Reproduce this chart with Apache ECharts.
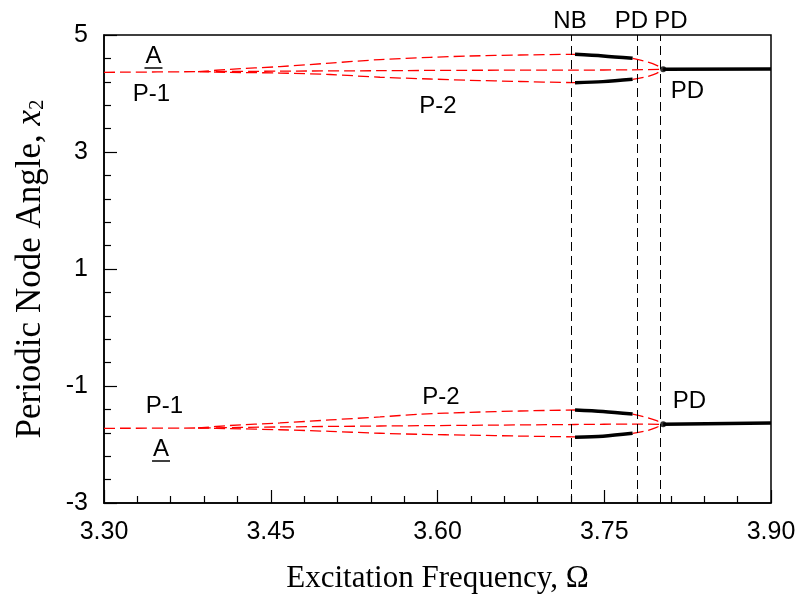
<!DOCTYPE html>
<html><head><meta charset="utf-8">
<script src="https://cdn.jsdelivr.net/npm/echarts@6/dist/echarts.min.js"></script>
<style>html,body{margin:0;padding:0;background:#fff}#c{width:801px;height:605px}</style>
</head><body><div id="c"></div><script>
// ---------- Upper set (x2 ~ 4.4) ----------
const upP1Omega   = [3.30, 3.3846, 3.4583, 3.5483, 3.6292, 3.7237, 3.7755, 3.803];
const upP1Value   = [4.362, 4.373, 4.382, 4.390, 4.397, 4.400, 4.405, 4.414];
const upP2aOmega  = [3.3846, 3.4133, 3.4583, 3.5033, 3.5483, 3.5933, 3.6292, 3.6742, 3.7237];
const upP2aValue  = [4.373, 4.414, 4.460, 4.520, 4.580, 4.618, 4.641, 4.658, 4.670];
const upP2bOmega  = [3.3846, 3.4133, 3.4583, 3.5033, 3.5483, 3.5933, 3.6292, 3.6742, 3.7237];
const upP2bValue  = [4.373, 4.362, 4.350, 4.325, 4.278, 4.248, 4.226, 4.205, 4.185];
const upStabAOmega = [3.7237, 3.7489, 3.7755];
const upStabAValue = [4.670, 4.643, 4.602];
const upStabBOmega = [3.7237, 3.7489, 3.7755];
const upStabBValue = [4.185, 4.203, 4.243];
const upPDaOmega  = [3.7755, 3.7881, 3.7971, 3.803];
const upPDaValue  = [4.602, 4.544, 4.482, 4.414];
const upPDbOmega  = [3.7755, 3.7881, 3.7971, 3.803];
const upPDbValue  = [4.243, 4.287, 4.345, 4.414];
const upP1StabOmega = [3.803, 3.90];
const upP1StabValue = [4.414, 4.420];

// ---------- Lower set (x2 ~ -1.7) ----------
const loP1Omega   = [3.30, 3.3846, 3.4583, 3.5483, 3.6292, 3.7237, 3.7755, 3.803];
const loP1Value   = [-1.723, -1.718, -1.700, -1.684, -1.672, -1.658, -1.652, -1.655];
const loP2aOmega  = [3.3846, 3.4133, 3.4583, 3.5033, 3.5483, 3.5843, 3.6292, 3.6742, 3.7237];
const loP2aValue  = [-1.718, -1.675, -1.632, -1.580, -1.528, -1.482, -1.450, -1.427, -1.410];
const loP2bOmega  = [3.3846, 3.4133, 3.4583, 3.5033, 3.5483, 3.5843, 3.6292, 3.6742, 3.7237];
const loP2bValue  = [-1.718, -1.728, -1.748, -1.775, -1.808, -1.826, -1.840, -1.856, -1.870];
const loStabAOmega = [3.7237, 3.7489, 3.7755];
const loStabAValue = [-1.410, -1.436, -1.479];
const loStabBOmega = [3.7237, 3.7489, 3.7755];
const loStabBValue = [-1.875, -1.858, -1.809];
const loPDaOmega  = [3.7755, 3.7881, 3.7971, 3.803];
const loPDaValue  = [-1.479, -1.536, -1.593, -1.655];
const loPDbOmega  = [3.7755, 3.7881, 3.7971, 3.803];
const loPDbValue  = [-1.809, -1.764, -1.706, -1.655];
const loP1StabOmega = [3.803, 3.90];
const loP1StabValue = [-1.655, -1.632];

// Bifurcation frequencies (NB, PD, PD)
const bifurcationOmega = [3.7237, 3.7755, 3.803];
const pdPointOmega = [3.803, 3.803];
const pdPointValue = [4.414, -1.655];

// Axis ticks
const xMin = 3.30, xMax = 3.90, xStep = 0.15;
const yMin = -3, yMax = 5, yStep = 2;

// Annotations: [omega, x2, text, underline]
const annotations = [
  [3.3445, 4.641, 'A', true],
  [3.3427, 3.991, 'P-1', false],
  [3.6004, 3.786, 'P-2', false],
  [3.8249, 4.034, 'PD', false],
  [3.7192, 5.239, 'NB', false],
  [3.7745, 5.239, 'PD', false],
  [3.8100, 5.239, 'PD', false],
  [3.3544, -1.350, 'P-1', false],
  [3.3513, -2.077, 'A', true],
  [3.6031, -1.188, 'P-2', false],
  [3.8266, -1.256, 'PD', false]
];

const pts = (xs, ys) => xs.map((x, i) => [x, ys[i]]);
const redDash = {color: '#ff0000', width: 1.3, type: [11, 5]};
const blackSolid = {color: '#000000', width: 3.5};
function mk(xs, ys, style, z) {
  return {type: 'line', data: pts(xs, ys), showSymbol: false, symbol: 'none',
          smooth: 0.3,
          lineStyle: style, z: z, silent: true, animation: false};
}

const chart = echarts.init(document.getElementById('c'), null, {renderer: 'canvas'});
const sans = 'Liberation Sans, Arial, sans-serif';
const serif = 'Liberation Serif, Times New Roman, serif';

const series = [
  mk(upP1Omega, upP1Value, redDash, 2),
  mk(upP2aOmega, upP2aValue, redDash, 2),
  mk(upP2bOmega, upP2bValue, redDash, 2),
  mk(upPDaOmega, upPDaValue, redDash, 2),
  mk(upPDbOmega, upPDbValue, redDash, 2),
  mk(upStabAOmega, upStabAValue, blackSolid, 4),
  mk(upStabBOmega, upStabBValue, blackSolid, 4),
  mk(upP1StabOmega, upP1StabValue, blackSolid, 4),
  mk(loP1Omega, loP1Value, redDash, 2),
  mk(loP2aOmega, loP2aValue, redDash, 2),
  mk(loP2bOmega, loP2bValue, redDash, 2),
  mk(loPDaOmega, loPDaValue, redDash, 2),
  mk(loPDbOmega, loPDbValue, redDash, 2),
  mk(loStabAOmega, loStabAValue, blackSolid, 4),
  mk(loStabBOmega, loStabBValue, blackSolid, 4),
  mk(loP1StabOmega, loP1StabValue, blackSolid, 4),
  {type: 'scatter', data: pts(pdPointOmega, pdPointValue), symbol: 'circle', symbolSize: 6,
   itemStyle: {color: '#000'}, z: 5, silent: true, animation: false}
];
series[0].markLine = {
  silent: true, symbol: ['none', 'none'], label: {show: false}, animation: false,
  lineStyle: {color: '#000', width: 1, type: [9, 5]},
  data: bifurcationOmega.map(v => ({xAxis: v}))
};

chart.setOption({
  animation: false,
  backgroundColor: '#ffffff',
  grid: {left: 104, right: 30, top: 35, bottom: 102, show: true, borderColor: '#000', borderWidth: 1.5, backgroundColor: 'transparent'},
  xAxis: {
    type: 'value', min: xMin, max: xMax, interval: xStep,
    name: 'Excitation Frequency, Ω', nameLocation: 'middle', nameGap: 60,
    nameTextStyle: {fontFamily: serif, fontSize: 31, color: '#000'},
    axisLine: {show: true, onZero: false, lineStyle: {color: '#000', width: 1.5}},
    axisTick: {show: true, inside: true, length: 13, lineStyle: {color: '#000', width: 1.2}},
    minorTick: {show: true, splitNumber: 5, length: 7, lineStyle: {color: '#000', width: 1.2}},
    splitLine: {show: false}, minorSplitLine: {show: false},
    axisLabel: {formatter: v => v.toFixed(2), fontFamily: sans, fontSize: 25, color: '#000', margin: 17}
  },
  yAxis: {
    type: 'value', min: yMin, max: yMax, interval: yStep,
    name: '{a|Periodic Node Angle, }{b|x}{c|2}', nameLocation: 'middle', nameGap: 56, nameRotate: 90,
    nameTextStyle: {fontFamily: serif, fontSize: 35, color: '#000',
      rich: {
        a: {fontFamily: serif, fontSize: 35, color: '#000'},
        b: {fontFamily: serif, fontSize: 35, fontStyle: 'italic', color: '#000'},
        c: {fontFamily: serif, fontSize: 21, color: '#000', verticalAlign: 'bottom', lineHeight: 34}
      }},
    axisLine: {show: true, onZero: false, lineStyle: {color: '#000', width: 1.5}},
    axisTick: {show: true, inside: true, length: 13, lineStyle: {color: '#000', width: 1.2}},
    minorTick: {show: true, splitNumber: 5, length: 7, lineStyle: {color: '#000', width: 1.2}},
    splitLine: {show: false}, minorSplitLine: {show: false},
    axisLabel: {fontFamily: sans, fontSize: 25, color: '#000', margin: 16}
  },
  series: series
});

const graphics = [];
annotations.forEach(a => {
  const p = chart.convertToPixel({gridIndex: 0}, [a[0], a[1]]);
  graphics.push({type: 'text', silent: true, z: 10,
    style: {text: a[2], x: p[0], y: p[1], font: '24px ' + sans, fill: '#000',
            align: 'center', verticalAlign: 'middle', textAlign: 'center', textVerticalAlign: 'middle'}});
  if (a[3]) {
    graphics.push({type: 'line', silent: true, z: 10,
      shape: {x1: p[0] - 9, y1: p[1] + 12, x2: p[0] + 9, y2: p[1] + 12},
      style: {stroke: '#000', lineWidth: 1.5}});
  }
});
chart.setOption({graphic: graphics});
</script></body></html>
